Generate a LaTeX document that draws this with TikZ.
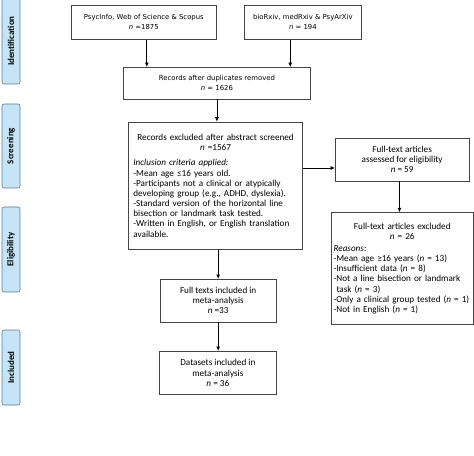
\documentclass[tikz,border=0pt]{standalone}
\usepackage{fontspec}
\setmainfont{Carlito}
\newfontfamily\verd{DejaVu Sans}
\usetikzlibrary{arrows.meta}
\definecolor{tabfill}{HTML}{C4E4F7}
\definecolor{tabline}{HTML}{5F7B93}
\definecolor{boxline}{HTML}{454545}
\hyphenpenalty=10000
\begin{document}
\begin{tikzpicture}[x=1bp,y=-1bp,
  box/.style={draw=boxline,line width=0.8pt,fill=white,anchor=north west,inner sep=0pt,
    font=\fontsize{9.2}{10.2}\selectfont,align=center},
  vbox/.style={box,font=\verd\fontsize{6.9}{10}\selectfont},
  tab/.style={draw=tabline,fill=tabfill,line width=0.6pt,rounded corners=2pt},
  tablbl/.style={rotate=90,font=\bfseries\fontsize{9}{10}\selectfont},
  arr/.style={draw=black,line width=0.8pt,-{Latex[length=4.5pt,width=4pt]}}]
\useasboundingbox (0,0) rectangle (474,456);
% side tabs
\draw[tab] (2,-5) rectangle (20,84);
\node[tablbl] (t1) at (11,41) {Identification};
\draw[tab] (2,104) rectangle (20,188);
\node[tablbl] (t2) at (11,146) {Screening};
\draw[tab] (2,207) rectangle (20,292);
\node[tablbl] (t3) at (11,249.5) {Eligibility};
\draw[tab] (2,330) rectangle (20,405);
\node[tablbl] (t4) at (11,367.5) {Included};
% boxes
\node[vbox,minimum width=146,minimum height=34] (A) at (70.7,5)
  {PsycInfo, Web of Science \& Scopus\\\textit{n} =1875};
\node[vbox,minimum width=118,minimum height=34] (B) at (243.7,5)
  {bioRxiv, medRxiv \& PsyArXiv\\\textit{n} = 194};
\node[vbox,minimum width=187.7,minimum height=31.7] (C) at (123,67)
  {Records after duplicates removed\\\textit{n} = 1626};
\node[box,minimum width=175,minimum height=127.6,text width=165,align=left] (D) at (128,121.7)
  {{\centering Records excluded after abstract screened\\\textit{n} =1567\par}
   \vspace{5pt}
   \textit{Inclusion criteria applied:}\\
   -Mean age ≤16 years old.\\
   -Participants not a clinical or atypically\\
   developing group (e.g., ADHD, dyslexia).\\
   -Standard version of the horizontal line\\
   bisection or landmark task tested.\\
   -Written in English, or English translation\\
   available.};
\node[box,minimum width=134,minimum height=42.7] (E) at (335,138)
  {Full-text articles\\assessed for eligibility\\\textit{n} = 59};
\node[box,minimum width=142.3,minimum height=111.7,text width=138,align=left] (F) at (331,212.3)
  {{\centering Full-text articles excluded\\\textit{n} = 26\par}
   \vspace{2pt}
   \textit{Reasons:}\\
   -Mean age ≥16 years (\textit{n} = 13)\\
   -Insufficient data (\textit{n} = 8)\\
   -Not a line bisection or landmark\\
   \hspace*{3pt}task (\textit{n} = 3)\\
   -Only a clinical group tested (\textit{n} = 1)\\
   -Not in English (\textit{n} = 1)};
\node[box,minimum width=116,minimum height=42.7] (G) at (160,279)
  {Full texts included in\\meta-analysis\\\textit{n} =33};
\node[box,minimum width=116.7,minimum height=43.3] (H) at (159.3,351)
  {Datasets included in\\meta-analysis\\\textit{n} = 36};
% connectors
\draw[arr] ([xshift=3pt]A.south) -- ([xshift=3pt]A.south |- C.north);
\draw[arr] ([xshift=-12.7pt]B.south) -- ([xshift=-12.7pt]B.south |- C.north);
\draw[arr] (C.south) -- (C.south |- D.north);
\draw[arr] (D.east |- 0,168) -- (E.west |- 0,168);
\draw[arr] ([xshift=-2.7pt]E.south) -- ([xshift=-2.7pt]E.south |- F.north);
\draw[arr] (G.north |- D.south) -- (G.north);
\draw[arr] (G.south) -- (G.south |- H.north);
\end{tikzpicture}
\end{document}
